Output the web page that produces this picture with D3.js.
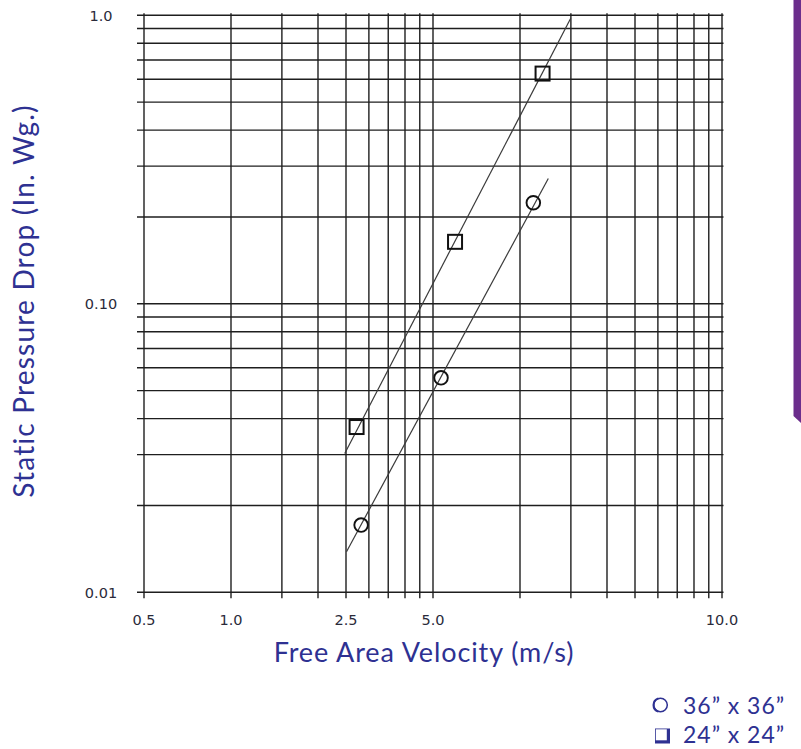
<!DOCTYPE html>
<html>
<head>
<meta charset="utf-8">
<script src="https://cdn.jsdelivr.net/npm/d3@7"></script>
<style>
  html, body { margin: 0; padding: 0; background: #fff; }
  svg { display: block; }
</style>
</head>
<body>
<svg width="801" height="749"></svg>
<script>
// grid values (log-log paper)
const X_GRID = [0.5, 1, 1.5, 2, 2.5, 3, 3.5, 4, 4.5, 5, 10, 15, 20, 25, 30, 35, 40, 45, 50];
const Y_GRID = [0.01, 0.02, 0.03, 0.04, 0.05, 0.06, 0.07, 0.08, 0.09,
                0.1, 0.2, 0.3, 0.4, 0.5, 0.6, 0.7, 0.8, 0.9, 1.0];

// tick labels as printed on the original chart
const X_TICKS = [0.5, 1, 2.5, 5, 50];
const X_LABELS = ['0.5', '1.0', '2.5', '5.0', '10.0'];
const Y_TICKS = [1, 0.1, 0.01];
const Y_LABELS = ['1.0', '0.10', '0.01'];

// measured points
const SQ_X = [2.72, 5.96, 11.97];
const SQ_Y = [0.0374, 0.164, 0.628];
const CI_X = [2.82, 5.33, 11.12];
const CI_Y = [0.0171, 0.0554, 0.224];

// fitted lines (end points)
const SQ_FIT_X = [2.475, 14.98];
const SQ_FIT_Y = [0.0303, 0.976];
const CI_FIT_X = [2.51, 12.53];
const CI_FIT_Y = [0.01383, 0.272];

const LEGEND = ['36\u201d x 36\u201d', '24\u201d x 24\u201d'];

const navy = '#2e3192';
const gridColor = '#1e1e1e';

const svg = d3.select('svg');

const x = d3.scaleLog().domain([0.5, 50]).range([144, 722]);
const y = d3.scaleLog().domain([0.01, 1]).range([592.3, 15.3]);

// purple edge bar on the right
svg.append('polygon')
    .attr('points', '793.5,0 801,0 801,423 793.5,416')
    .attr('fill', '#6b2d8c');

const grid = svg.append('g');

grid.selectAll('.hline')
    .data(Y_GRID)
    .enter()
    .append('line')
    .attr('x1', x(0.5) - 7)
    .attr('x2', x(50) + 1.5)
    .attr('y1', d => y(d))
    .attr('y2', d => y(d))
    .attr('stroke', gridColor)
    .attr('stroke-width', 1.4);

grid.selectAll('.vline')
    .data(X_GRID)
    .enter()
    .append('line')
    .attr('x1', d => x(d))
    .attr('x2', d => x(d))
    .attr('y1', y(1) - 2)
    .attr('y2', y(0.01) + 6)
    .attr('stroke', gridColor)
    .attr('stroke-width', 1.4);

// tick labels
svg.selectAll('.xlab')
    .data(X_TICKS)
    .enter()
    .append('text')
    .attr('x', d => x(d))
    .attr('y', 625)
    .attr('text-anchor', 'middle')
    .style('font-family', 'DejaVu Sans, Verdana, sans-serif')
    .style('font-size', '14.5px')
    .attr('fill', '#2a2a3a')
    .text((d, i) => X_LABELS[i]);

svg.selectAll('.ylab')
    .data(Y_TICKS)
    .enter()
    .append('text')
    .attr('x', 101)
    .attr('y', d => y(d))
    .attr('dy', '0.36em')
    .attr('text-anchor', 'middle')
    .style('font-family', 'DejaVu Sans, Verdana, sans-serif')
    .style('font-size', '14.5px')
    .attr('fill', '#2a2a3a')
    .text((d, i) => Y_LABELS[i]);

// fitted lines
const fits = [
    {xs: SQ_FIT_X, ys: SQ_FIT_Y},
    {xs: CI_FIT_X, ys: CI_FIT_Y}
];
svg.selectAll('.fit')
    .data(fits)
    .enter()
    .append('line')
    .attr('x1', d => x(d.xs[0]))
    .attr('y1', d => y(d.ys[0]))
    .attr('x2', d => x(d.xs[1]))
    .attr('y2', d => y(d.ys[1]))
    .attr('stroke', '#3a3a3a')
    .attr('stroke-width', 1.2);

// markers
svg.selectAll('.sq')
    .data(SQ_X)
    .enter()
    .append('rect')
    .attr('x', d => x(d) - 7)
    .attr('y', (d, i) => y(SQ_Y[i]) - 7)
    .attr('width', 14)
    .attr('height', 14)
    .attr('fill', 'none')
    .attr('stroke', '#111')
    .attr('stroke-width', 2);

svg.selectAll('.ci')
    .data(CI_X)
    .enter()
    .append('circle')
    .attr('cx', d => x(d))
    .attr('cy', (d, i) => y(CI_Y[i]))
    .attr('r', 6.8)
    .attr('fill', 'none')
    .attr('stroke', '#111')
    .attr('stroke-width', 1.9);

// axis titles
svg.append('text')
    .attr('x', 424)
    .attr('y', 662)
    .attr('text-anchor', 'middle')
    .style('font-family', 'Lato, sans-serif')
    .style('font-size', '27px')
    .style('letter-spacing', '0.9px')
    .attr('fill', navy)
    .text('Free Area Velocity (m/s)');

svg.append('text')
    .attr('transform', 'translate(34,301) rotate(-90)')
    .attr('text-anchor', 'middle')
    .style('font-family', 'Lato, sans-serif')
    .style('font-size', '28px')
    .style('letter-spacing', '1.2px')
    .attr('fill', navy)
    .text('Static Pressure Drop (In. Wg.)');

// legend
const legend = svg.append('g');
// shadowed open circle symbol
legend.append('circle')
    .attr('cx', 660.5).attr('cy', 705).attr('r', 6.8)
    .attr('fill', 'none').attr('stroke', navy).attr('stroke-width', 1.5);
legend.append('path')
    .attr('d', d3.arc()({innerRadius: 6, outerRadius: 8, startAngle: Math.PI * 1.1, endAngle: Math.PI * 1.9}))
    .attr('transform', 'translate(660.5,705)')
    .attr('fill', navy);
// shadowed square symbol
legend.append('rect')
    .attr('x', 655).attr('y', 728.5).attr('width', 15).attr('height', 15)
    .attr('fill', navy);
legend.append('rect')
    .attr('x', 655.8).attr('y', 729.3).attr('width', 11).attr('height', 11)
    .attr('fill', '#fff');

legend.selectAll('.ltext')
    .data(LEGEND)
    .enter()
    .append('text')
    .attr('x', 683)
    .attr('y', (d, i) => 714 + i * 29)
    .style('font-family', 'Lato, sans-serif')
    .style('font-size', '23px')
    .style('letter-spacing', '1px')
    .attr('fill', navy)
    .text(d => d);
</script>
</body>
</html>
